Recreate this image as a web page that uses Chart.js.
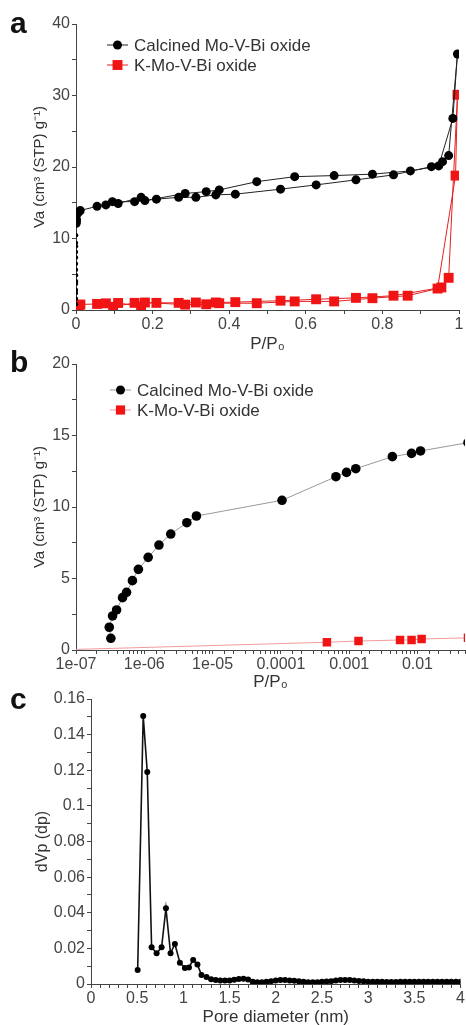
<!DOCTYPE html>
<html lang="en">
<head>
<meta charset="UTF-8">
<title>Mo-V-Bi oxide - isotherms and pore size</title>
<script src="https://cdn.jsdelivr.net/npm/chart.js"></script>
<style>
    html, body { margin: 0; padding: 0; background: #ffffff; overflow: hidden; }
    body { width: 466px; height: 1025px; position: relative; font-family: "Liberation Sans", Arial, sans-serif; }
    .panel { position: absolute; left: 0; width: 466px; }
    .tag { position: absolute; left: 10px; font-weight: bold; font-size: 30px; line-height: 30px; color: #111; }
</style>
</head>
<body>
<div class="panel" style="top:0;height:360px"><canvas id="chartA"></canvas></div>
<div class="panel" style="top:340px;height:355px;width:471px"><canvas id="chartB"></canvas></div>
<div class="panel" style="top:686px;height:349px"><canvas id="chartC"></canvas></div>
<div class="tag" style="top:8px">a</div>
<div class="tag" style="top:347px">b</div>
<div class="tag" style="top:684px">c</div>

<script>
    // calcined oxide, adsorption (low pressure part, seen in panel b, then the rest)
    const calcLowP = [3.24e-7, 3.07e-7, 3.43e-7, 3.93e-7, 4.8e-7, 5.5e-7, 6.7e-7, 8.2e-7, 1.14e-6, 1.64e-6, 2.44e-6, 4.2e-6, 5.8e-6, 1.04e-4, 6.4e-4, 9.15e-4, 1.25e-3, 4.29e-3, 8.2e-3, 1.11e-2];
    const calcLowV = [0.82, 1.59, 2.38, 2.8, 3.66, 4.03, 4.85, 5.64, 6.48, 7.34, 8.11, 8.9, 9.37, 10.47, 12.12, 12.42, 12.68, 13.52, 13.75, 13.92];
    const calcAdsP = [0.055, 0.095, 0.153, 0.21, 0.268, 0.313, 0.365, 0.416, 0.534, 0.627, 0.731, 0.829, 0.928, 0.957, 0.973, 0.996];
    const calcAdsV = [14.5, 15.15, 15.15, 15.5, 15.76, 15.76, 16.1, 16.2, 16.9, 17.5, 18.2, 18.9, 20.05, 20.75, 21.6, 35.8];
    const calcDesP = [0.984, 0.947, 0.873, 0.774, 0.674, 0.571, 0.472, 0.374, 0.34, 0.285, 0.18, 0.17, 0.11, 0.078];
    const calcDesV = [26.8, 20.15, 19.45, 19.0, 18.8, 18.65, 17.95, 16.8, 16.55, 16.3, 15.3, 15.76, 14.9, 14.7];

    // K-Mo-V-Bi oxide
    const kLowP = [5e-8, 4.72e-4, 1.37e-3, 5.56e-3, 8.2e-3, 1.15e-2];
    const kLowV = [0.0, 0.54, 0.63, 0.7, 0.7, 0.77];
    const kAdsP = [0.055, 0.097, 0.153, 0.21, 0.268, 0.313, 0.365, 0.416, 0.534, 0.627, 0.731, 0.829, 0.954, 0.973, 0.996];
    const kAdsV = [0.85, 0.45, 1.0, 1.0, 1.0, 1.05, 1.05, 1.1, 1.3, 1.5, 1.7, 2.0, 3.15, 4.5, 30.1];
    const kDesP = [0.991, 0.944, 0.866, 0.774, 0.674, 0.571, 0.472, 0.374, 0.34, 0.285, 0.18, 0.17, 0.11, 0.078];
    const kDesV = [18.8, 3.0, 2.0, 1.65, 1.2, 1.2, 0.95, 0.95, 0.8, 0.75, 1.05, 0.5, 0.98, 0.93];

    // pore size distribution
    const poreD = [0.505, 0.565, 0.609, 0.656, 0.71, 0.764, 0.811, 0.861, 0.908, 0.962, 1.016, 1.06, 1.106, 1.152, 1.196, 1.25, 1.30,
        1.35, 1.40, 1.45, 1.50, 1.55, 1.60, 1.65, 1.70, 1.75, 1.80, 1.85, 1.90, 1.95, 2.00, 2.05, 2.10, 2.15, 2.20, 2.25, 2.30,
        2.35, 2.40, 2.45, 2.50, 2.55, 2.60, 2.65, 2.70, 2.75, 2.80, 2.85, 2.90, 2.95, 3.00, 3.05, 3.10, 3.15, 3.20, 3.25, 3.30,
        3.35, 3.40, 3.45, 3.50, 3.55, 3.60, 3.65, 3.70, 3.75, 3.80, 3.85, 3.90, 3.95, 4.00];
    const poreDV = [0.0079, 0.1505, 0.119, 0.0206, 0.0172, 0.0206, 0.0425, 0.0172, 0.0225, 0.012, 0.009, 0.0093, 0.0135, 0.011, 0.005, 0.004, 0.0027,
        0.0022, 0.002, 0.002, 0.002, 0.0024, 0.0028, 0.003, 0.0025, 0.0012, 0.001, 0.001, 0.0012, 0.0016, 0.002, 0.0023, 0.0022, 0.002, 0.0018, 0.0015, 0.0012,
        0.001, 0.001, 0.001, 0.0012, 0.0014, 0.0016, 0.0019, 0.0022, 0.0023, 0.0022, 0.002, 0.0017, 0.0015, 0.0013, 0.0012, 0.0012, 0.0012, 0.0011, 0.0011, 0.0011,
        0.0012, 0.0012, 0.0012, 0.0012, 0.0012, 0.0012, 0.0012, 0.0012, 0.0012, 0.0012, 0.0012, 0.0012, 0.0012, 0.0012];

    // tick labels
    const xTicksA = ['0', '0.2', '0.4', '0.6', '0.8', '1'];
    const yTicksA = ['0', '10', '20', '30', '40'];
    const xTicksB = ['1e-07', '1e-06', '1e-05', '0.0001', '0.001', '0.01'];
    const yTicksB = ['0', '5', '10', '15', '20'];
    const xTicksC = ['0', '0.5', '1', '1.5', '2', '2.5', '3', '3.5', '4'];
    const yTicksC = ['0', '0.02', '0.04', '0.06', '0.08', '0.1', '0.12', '0.14', '0.16'];

    const FONT = '"Liberation Sans", Arial, sans-serif';

    function pts(xs, ys) {
        return xs.map((x, i) => ({ x, y: ys[i] }));
    }

    const calcAll = pts(calcLowP.concat(calcAdsP, calcDesP), calcLowV.concat(calcAdsV, calcDesV));
    const kAll = pts(kLowP.concat(kAdsP, kDesP), kLowV.concat(kAdsV, kDesV));

    // legend drawn inside the plot, line + marker + text
    const insideLegend = {
        id: 'insideLegend',
        afterDraw(chart, args, opts) {
            if (!opts || opts.x === undefined) return;
            const ctx = chart.ctx;
            ctx.save();
            ctx.font = '17px ' + FONT;
            ctx.textBaseline = 'middle';
            chart.data.datasets.forEach((ds, i) => {
                const y = opts.y + i * opts.gap;
                ctx.strokeStyle = ds.borderColor;
                ctx.lineWidth = 1;
                ctx.beginPath();
                ctx.moveTo(opts.x, y);
                ctx.lineTo(opts.x + 21, y);
                ctx.stroke();
                ctx.fillStyle = ds.pointBackgroundColor;
                Chart.helpers.drawPoint(ctx, { pointStyle: ds.pointStyle, radius: ds.legendRadius, borderWidth: 0, rotation: 0 }, opts.x + 10.5, y);
                ctx.fillStyle = '#333';
                ctx.fillText(ds.label, opts.x + 27, y + 1);
            });
            ctx.restore();
        }
    };

    function xAxis(opts) {
        return Object.assign({
            type: 'linear',
            bounds: 'data',
            border: { color: '#444', width: 1 },
            grid: { drawOnChartArea: false, tickLength: 4, color: '#444' },
            afterFit(s) { s.height = opts.h; }
        }, opts.extra);
    }

    function yAxis(opts) {
        return Object.assign({
            type: 'linear',
            border: { color: '#444', width: 1 },
            grid: { drawOnChartArea: false, tickLength: 4, color: '#444' },
            afterFit(s) { s.width = opts.w; }
        }, opts.extra);
    }

    function every(n, labels) {
        return (v, i) => (i % n === 0 ? labels[i / n] : '');
    }

    // Panel a
    new Chart(document.getElementById('chartA'), {
        type: 'line',
        data: {
            datasets: [{
                label: 'Calcined Mo-V-Bi oxide',
                data: calcAll,
                borderColor: '#222',
                borderWidth: 1,
                pointBackgroundColor: '#000',
                pointBorderWidth: 0,
                pointStyle: 'circle',
                pointRadius: c => (c.raw && c.raw.x < 2e-4 ? 2.2 : 4.5),
                legendRadius: 4.5
            }, {
                label: 'K-Mo-V-Bi oxide',
                data: kAll,
                borderColor: '#e32020',
                borderWidth: 1,
                pointBackgroundColor: '#f01414',
                pointBorderWidth: 0,
                pointStyle: 'rect',
                pointRadius: 7,
                legendRadius: 7
            }]
        },
        options: {
            animation: false,
            responsive: true,
            maintainAspectRatio: false,
            layout: { padding: { top: 24, right: 0, left: 0, bottom: 0 } },
            plugins: {
                legend: { display: false },
                tooltip: { enabled: false },
                insideLegend: { x: 107, y: 45, gap: 20 }
            },
            scales: {
                x: xAxis({ h: 50, extra: {
                    min: 0, max: 1,
                    ticks: { color: '#444', font: { family: FONT, size: 16 }, padding: 1, maxRotation: 0, autoSkip: false, stepSize: 0.1, callback: every(2, xTicksA) },
                    title: { display: true, text: 'P/P₀', color: '#333', font: { family: FONT, size: 17 }, padding: { top: 0, bottom: 5 } }
                } }),
                y: yAxis({ w: 76, extra: {
                    min: 0, max: 40,
                    ticks: { color: '#444', font: { family: FONT, size: 16 }, padding: 2, autoSkip: false, stepSize: 5, callback: every(2, yTicksA) },
                    title: { display: true, text: 'Va (cm³ (STP) g⁻¹)', color: '#333', font: { family: FONT, size: 15 }, padding: { top: 31, bottom: 0 } }
                } })
            }
        },
        plugins: [insideLegend]
    });

    // Panel b
    new Chart(document.getElementById('chartB'), {
        type: 'line',
        data: {
            datasets: [{
                label: 'Calcined Mo-V-Bi oxide',
                data: calcAll,
                borderColor: '#999',
                borderWidth: 1,
                pointBackgroundColor: '#000',
                pointBorderWidth: 0,
                pointStyle: 'circle',
                pointRadius: 4.8,
                legendRadius: 4.5,
                clip: 0
            }, {
                label: 'K-Mo-V-Bi oxide',
                data: kAll,
                borderColor: '#f29a9a',
                borderWidth: 1,
                pointBackgroundColor: '#f01414',
                pointBorderWidth: 0,
                pointStyle: 'rect',
                pointRadius: 6,
                legendRadius: 6.5,
                clip: 0
            }]
        },
        options: {
            animation: false,
            responsive: true,
            maintainAspectRatio: false,
            layout: { padding: { top: 24, right: 0, left: 0, bottom: 0 } },
            plugins: {
                legend: { display: false },
                tooltip: { enabled: false },
                insideLegend: { x: 110, y: 50, gap: 20 }
            },
            scales: {
                x: xAxis({ h: 45, extra: {
                    type: 'logarithmic',
                    min: 1e-7, max: 0.0497,
                    ticks: {
                        color: '#444', font: { family: FONT, size: 16 }, padding: 1, maxRotation: 0, autoSkip: false,
                        callback: v => {
                            const e = Math.log10(v);
                            return Math.abs(e - Math.round(e)) < 1e-6 ? (xTicksB[Math.round(e) + 7] || '') : '';
                        }
                    },
                    title: { display: true, text: 'P/P₀', color: '#333', font: { family: FONT, size: 17 }, padding: { top: 0, bottom: 2 } }
                } }),
                y: yAxis({ w: 76, extra: {
                    min: 0, max: 20,
                    ticks: { color: '#444', font: { family: FONT, size: 16 }, padding: 2, autoSkip: false, stepSize: 2.5, callback: every(2, yTicksB) },
                    title: { display: true, text: 'Va (cm³ (STP) g⁻¹)', color: '#333', font: { family: FONT, size: 15 }, padding: { top: 31, bottom: 0 } }
                } })
            }
        },
        plugins: [insideLegend]
    });

    // Panel c
    new Chart(document.getElementById('chartC'), {
        type: 'line',
        data: {
            datasets: [{
                label: 'dVp',
                data: pts(poreD, poreDV),
                borderColor: '#111',
                borderWidth: 1.6,
                pointBackgroundColor: '#000',
                pointBorderWidth: 0,
                pointRadius: 3
            }]
        },
        options: {
            animation: false,
            responsive: true,
            maintainAspectRatio: false,
            layout: { padding: { top: 13, right: 0, left: 0, bottom: 0 } },
            plugins: {
                legend: { display: false },
                tooltip: { enabled: false }
            },
            scales: {
                x: xAxis({ h: 51, extra: {
                    min: 0, max: 4,
                    ticks: { color: '#444', font: { family: FONT, size: 16 }, padding: 1, maxRotation: 0, autoSkip: false, stepSize: 0.1, callback: every(5, xTicksC) },
                    title: { display: true, text: 'Pore diameter (nm)', color: '#333', font: { family: FONT, size: 17 }, padding: { top: 0, bottom: 7 } }
                } }),
                y: yAxis({ w: 91, extra: {
                    min: 0, max: 0.16,
                    ticks: { color: '#444', font: { family: FONT, size: 16 }, padding: 2, autoSkip: false, stepSize: 0.01, callback: every(2, yTicksC) },
                    title: { display: true, text: 'dVp (dp)', color: '#333', font: { family: FONT, size: 16 }, padding: { top: 33, bottom: 0 } }
                } })
            }
        }
    });
</script>
</body>
</html>
